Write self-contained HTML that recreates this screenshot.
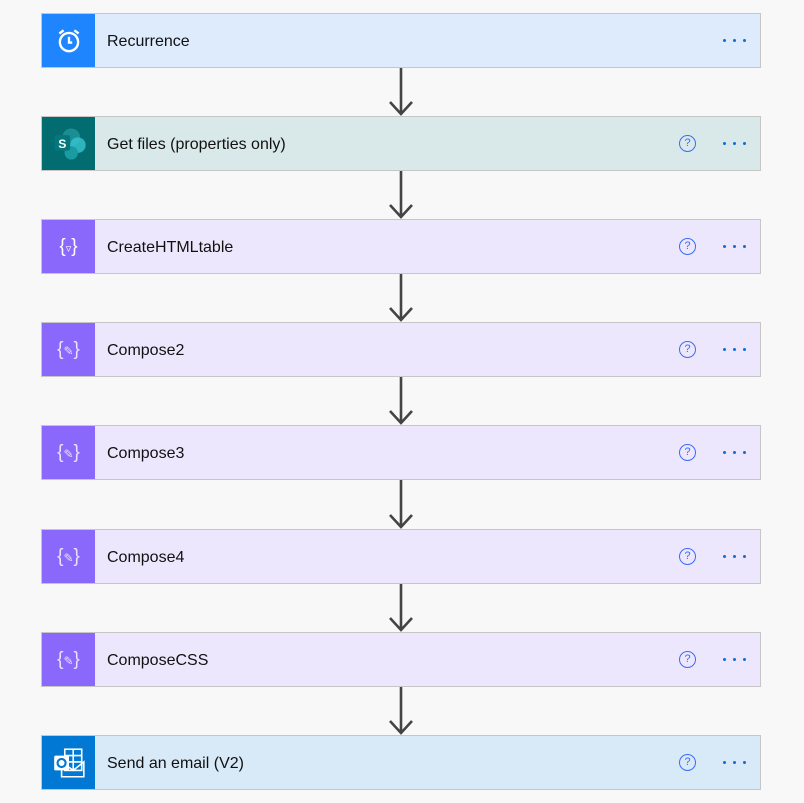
<!DOCTYPE html>
<html><head><style>
body{margin:0;width:804px;height:803px;background:#f8f8f8;position:relative;overflow:hidden;font-family:"Liberation Sans",sans-serif}
.c{position:absolute;left:41px;width:718px;height:53px;border:1px solid #c6c6c6;}
.ic{position:absolute;left:0;top:0;width:53px;height:53px;display:flex;align-items:center;justify-content:center}
.t{position:absolute;left:65px;top:1px;line-height:53px;font-size:16px;color:#111}
.q{position:absolute;left:637px;top:18px;width:15px;height:15px;border:1.3px solid #3b6cf5;border-radius:50%;font-size:11px;line-height:15px;text-align:center;color:#3b6cf5}
.d{position:absolute;left:681px;top:25px;width:24px;height:3px}
.d i{position:absolute;top:0;width:3px;height:3px;border-radius:50%;background:#0f6cd6}
svg.a{position:absolute;left:388px}
</style></head><body>

<div class="c" style="top:13px;background:#deebfd"><div class="ic" style="background:#1f85ff">
<svg width="30" height="30" viewBox="0 0 28 28" fill="none" stroke="#fff" stroke-width="2.2"><circle cx="14" cy="15" r="8.5"/><path d="M14 10v5.5h3M5 7l4-3M23 7l-4-3"/></svg></div>
<div class="t">Recurrence</div><div class="d"><i style="left:0"></i><i style="left:10px"></i><i style="left:20px"></i></div></div>

<div class="c" style="top:116px;background:#d9e9ea"><div class="ic" style="background:#036c70">
<svg width="40" height="40" viewBox="0 0 36 36"><circle cx="20" cy="12" r="8" fill="#1a8e92"/><circle cx="26" cy="19" r="7" fill="#37c6d0" opacity=".8"/><circle cx="20" cy="26" r="6" fill="#1a9ba1"/><rect x="5" y="10" width="14" height="14" rx="2" fill="#03787c"/><text x="12" y="21.5" fill="#fff" font-size="11" font-weight="bold" text-anchor="middle" font-family="Liberation Sans">S</text></svg></div>
<div class="t">Get files (properties only)</div><div class="q">?</div><div class="d"><i style="left:0"></i><i style="left:10px"></i><i style="left:20px"></i></div></div>

<div class="c" style="top:219px;background:#ede7fd"><div class="ic" style="background:#8a68fc"><span style="color:#fff;font-size:19px">{<span style="font-size:11px">▿</span>}</span></div>
<div class="t">CreateHTMLtable</div><div class="q">?</div><div class="d"><i style="left:0"></i><i style="left:10px"></i><i style="left:20px"></i></div></div>

<div class="c" style="top:322px;background:#ede7fd"><div class="ic" style="background:#8a68fc"><span style="color:#e8e2ff;font-size:19px">{<span style="font-size:12px">✎</span>}</span></div>
<div class="t">Compose2</div><div class="q">?</div><div class="d"><i style="left:0"></i><i style="left:10px"></i><i style="left:20px"></i></div></div>

<div class="c" style="top:425px;background:#ede7fd"><div class="ic" style="background:#8a68fc"><span style="color:#e8e2ff;font-size:19px">{<span style="font-size:12px">✎</span>}</span></div>
<div class="t">Compose3</div><div class="q">?</div><div class="d"><i style="left:0"></i><i style="left:10px"></i><i style="left:20px"></i></div></div>

<div class="c" style="top:529px;background:#ede7fd"><div class="ic" style="background:#8a68fc"><span style="color:#e8e2ff;font-size:19px">{<span style="font-size:12px">✎</span>}</span></div>
<div class="t">Compose4</div><div class="q">?</div><div class="d"><i style="left:0"></i><i style="left:10px"></i><i style="left:20px"></i></div></div>

<div class="c" style="top:632px;background:#ede7fd"><div class="ic" style="background:#8a68fc"><span style="color:#e8e2ff;font-size:19px">{<span style="font-size:12px">✎</span>}</span></div>
<div class="t">ComposeCSS</div><div class="q">?</div><div class="d"><i style="left:0"></i><i style="left:10px"></i><i style="left:20px"></i></div></div>

<div class="c" style="top:735px;background:#d8e9f8"><div class="ic" style="background:#0078d4">
<svg width="36" height="36" viewBox="0 0 34 34" fill="none" stroke="#fff" stroke-width="1.5"><rect x="13" y="4" width="16" height="20"/><path d="M13 10h16M13 16h16M21 4v20M10 16v14h21V16l-10 8z"/><rect x="3" y="10" width="14" height="14" rx="1.5" fill="#fff" stroke="none"/><circle cx="10" cy="17" r="3.8" stroke="#0078d4" stroke-width="2"/></svg></div>
<div class="t">Send an email (V2)</div><div class="q">?</div><div class="d"><i style="left:0"></i><i style="left:10px"></i><i style="left:20px"></i></div></div>

<svg class="a" style="top:68px" width="26" height="48"><path d="M13 0V46M2 34l11 12 11-12" stroke="#444" stroke-width="2.6" fill="none"/></svg>
<svg class="a" style="top:171px" width="26" height="48"><path d="M13 0V46M2 34l11 12 11-12" stroke="#444" stroke-width="2.6" fill="none"/></svg>
<svg class="a" style="top:274px" width="26" height="48"><path d="M13 0V46M2 34l11 12 11-12" stroke="#444" stroke-width="2.6" fill="none"/></svg>
<svg class="a" style="top:377px" width="26" height="48"><path d="M13 0V46M2 34l11 12 11-12" stroke="#444" stroke-width="2.6" fill="none"/></svg>
<svg class="a" style="top:480px" width="26" height="49"><path d="M13 0V47M2 35l11 12 11-12" stroke="#444" stroke-width="2.6" fill="none"/></svg>
<svg class="a" style="top:584px" width="26" height="48"><path d="M13 0V46M2 34l11 12 11-12" stroke="#444" stroke-width="2.6" fill="none"/></svg>
<svg class="a" style="top:687px" width="26" height="48"><path d="M13 0V46M2 34l11 12 11-12" stroke="#444" stroke-width="2.6" fill="none"/></svg>
</body></html>
